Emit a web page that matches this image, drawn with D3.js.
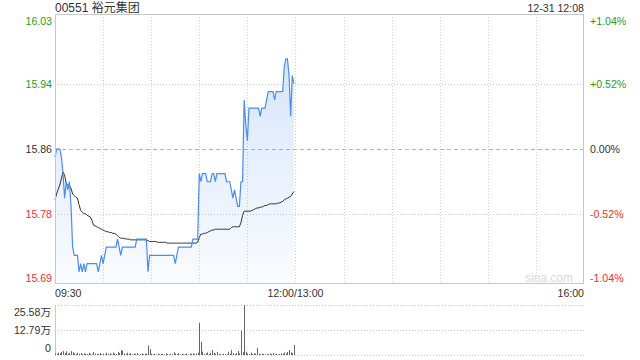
<!DOCTYPE html>
<html><head><meta charset="utf-8">
<script src="https://cdn.jsdelivr.net/npm/d3@7"></script>
<style>
html,body{margin:0;padding:0;background:#fff;}
svg{display:block;font-family:Arial,"Liberation Sans","Noto Sans CJK SC",sans-serif;}
</style></head>
<body><svg id="c" width="640" height="360"></svg>
<script>
// ---- data ----
const title = "00551 裕元集团";
const stamp = "12-31 12:08";
const prevClose = 15.86;
const priceTicks = [16.03, 15.94, 15.86, 15.78, 15.69];
const pctTicks = ["+1.04%", "+0.52%", "0.00%", "-0.52%", "-1.04%"];
const timeLabels = ["09:30", "12:00/13:00", "16:00"];
const timeLabelMinutes = [0, 150, 330];
const volTicks = [25.58, 12.79, 0];
const volTickLabels = ["25.58万", "12.79万", "0"];
// minute-by-minute last price, 09:30 onward
const price = [
 15.85,15.86,15.86,15.86,15.85,15.83,15.80,15.82,15.81,15.82, // 0-9
 15.79,15.74,15.73,15.73,15.73,15.71,15.72,15.71,15.72,15.71, // 10-19
 15.72,15.72,15.72,15.72,15.72,15.72,15.72,15.71,15.72,15.73, // 20-29
 15.72,15.73,15.74,15.74,15.74,15.74,15.74,15.74,15.74,15.75, // 30-39
 15.74,15.73,15.74,15.74,15.74,15.74,15.74,15.74,15.74,15.74, // 40-49
 15.74,15.75,15.75,15.75,15.75,15.75,15.75,15.75,15.71,15.73, // 50-59
 15.73,15.73,15.73,15.73,15.73,15.73,15.73,15.73,15.73,15.73, // 60-69
 15.73,15.73,15.73,15.73,15.73,15.72,15.73,15.74,15.74,15.74, // 70-79
 15.74,15.74,15.74,15.74,15.74,15.74,15.75,15.75,15.75,15.75, // 80-89
 15.83,15.82,15.83,15.83,15.83,15.82,15.82,15.82,15.83,15.83, // 90-99
 15.82,15.83,15.83,15.83,15.83,15.83,15.83,15.82,15.82,15.82, // 100-109
 15.81,15.80,15.81,15.80,15.79,15.79,15.82,15.82,15.92,15.89, // 110-119
 15.87,15.91,15.91,15.91,15.91,15.91,15.91,15.91,15.90,15.91, // 120-129
 15.91,15.91,15.92,15.93,15.93,15.93,15.93,15.92,15.93,15.93, // 130-139
 15.93,15.93,15.93,15.96,15.97,15.97,15.95,15.90,15.95,15.94  // 140-149
];
// minute-by-minute average price
const avgPrice = [
 15.798,15.805,15.811,15.816,15.824,15.832,15.828,15.818,15.816,15.815,
 15.812,15.805,15.803,15.801,15.800,15.792,15.785,15.783,15.781,15.781,
 15.779,15.778,15.777,15.773,15.767,15.766,15.765,15.764,15.763,15.762,
 15.761,15.760,15.759,15.759,15.758,15.758,15.757,15.757,15.756,15.754,
 15.752,15.751,15.751,15.751,15.750,15.750,15.750,15.749,15.749,15.749,
 15.749,15.749,15.749,15.749,15.749,15.749,15.749,15.749,15.748,15.747,
 15.747,15.747,15.747,15.747,15.746,15.746,15.746,15.746,15.746,15.746,
 15.745,15.745,15.745,15.745,15.745,15.745,15.745,15.745,15.745,15.745,
 15.745,15.745,15.745,15.745,15.745,15.745,15.745,15.745,15.745,15.746,
 15.752,15.756,15.756,15.757,15.757,15.758,15.759,15.760,15.761,15.761,
 15.762,15.762,15.762,15.762,15.762,15.762,15.762,15.762,15.762,15.762,
 15.764,15.765,15.765,15.765,15.765,15.765,15.770,15.779,15.784,15.784,
 15.784,15.784,15.784,15.785,15.786,15.787,15.788,15.788,15.789,15.789,
 15.790,15.791,15.791,15.792,15.793,15.793,15.793,15.793,15.793,15.794,
 15.794,15.795,15.796,15.798,15.799,15.800,15.801,15.802,15.805,15.808
];
// minute volume, in 万 shares
const volume = [
 0.8,0.6,1.2,1.0,1.6,2.0,0.9,1.8,0.7,1.1,
 2.0,1.4,0.8,0.5,1.2,0.6,1.0,0.4,0.9,0.7,
 0.5,1.1,0.6,0.3,1.5,0.8,0.4,0.6,1.0,0.5,
 0.7,0.3,1.2,0.6,0.9,0.4,1.3,0.7,0.5,1.6,
 1.0,2.6,2.2,0.8,0.5,1.2,0.6,0.9,0.4,0.7,
 0.6,0.9,0.3,0.5,0.8,0.4,0.6,0.7,4.8,3.0,
 0.6,0.4,0.5,0.3,0.7,0.4,0.5,0.6,0.3,0.8,
 0.5,0.3,0.6,0.4,1.4,0.7,0.5,0.9,0.3,0.6,
 0.4,0.5,0.8,0.3,0.6,0.7,0.9,0.5,0.8,1.2,
 16.5,6.8,1.7,0.6,0.8,1.3,0.5,1.1,2.6,1.2,
 0.7,1.6,0.5,0.4,0.3,0.6,0.5,0.4,1.7,0.6,
 2.6,0.9,0.5,1.0,2.0,0.8,12.4,1.5,25.58,1.7,
 0.8,0.6,1.2,0.5,0.9,0.7,3.7,0.6,0.4,0.5,
 0.6,0.3,0.5,0.4,0.8,0.5,1.1,0.4,0.6,0.3,
 0.5,0.9,0.7,1.3,0.8,1.6,2.6,1.4,0.9,5.1
];

// ---- layout ----
const L = 55, R = 584, T = 14, B = 284;
const VT = 305, VB = 355;
const totalMinutes = 330;
const green = "#1f9e1f", red = "#f23030", dark = "#333";
const fs = 10.6;

const svg = d3.select("#c");
const x = d3.scaleLinear().domain([0, totalMinutes]).range([L, R]);
const half = prevClose * 0.0104;
const y = d3.scaleLinear().domain([prevClose - half, prevClose + half]).range([B, T]);
const yv = d3.scaleLinear().domain([0, d3.max(volTicks)]).range([VB, VT]);

const defs = svg.append("defs");
const grad = defs.append("linearGradient").attr("id", "g").attr("x1", 0).attr("y1", 0).attr("x2", 0).attr("y2", 1);
grad.append("stop").attr("offset", "0%").attr("stop-color", "#4a8cf0").attr("stop-opacity", 0.22);
grad.append("stop").attr("offset", "100%").attr("stop-color", "#4a8cf0").attr("stop-opacity", 0.03);

// grid
const grid = svg.append("g");
d3.range(30, totalMinutes, 30).forEach(m => {
  grid.append("line").attr("x1", Math.round(x(m)) + 0.5).attr("x2", Math.round(x(m)) + 0.5)
    .attr("y1", T).attr("y2", B).attr("stroke", "#cfcfcf").attr("stroke-dasharray", "1,2");
});
priceTicks.forEach((p, i) => {
  if (i === 0 || i === priceTicks.length - 1) return;
  const yy = Math.round(y(i === 2 ? prevClose : p)) + 0.5;
  grid.append("line").attr("x1", L).attr("x2", R).attr("y1", yy).attr("y2", yy)
    .attr("stroke", i === 2 ? "#b5b5b5" : "#cfcfcf")
    .attr("stroke-dasharray", i === 2 ? "4,3" : "1,2");
});

// area + lines
const area = d3.area().x((d, i) => x(i)).y0(B).y1(d => y(d));
svg.append("path").datum(price).attr("d", area).attr("fill", "url(#g)");
const line = d3.line().x((d, i) => x(i)).y(d => y(d));
svg.append("path").datum(avgPrice).attr("d", line).attr("fill", "none").attr("stroke", "#333").attr("stroke-width", 1);
svg.append("path").datum(price).attr("d", line).attr("fill", "none").attr("stroke", "#4a8cf0").attr("stroke-width", 1.2);

// border
svg.append("rect").attr("x", L + 0.5).attr("y", T + 0.5).attr("width", R - L - 1).attr("height", B - T - 1)
  .attr("fill", "none").attr("stroke", "#c8c8c8");

// watermark
svg.append("text").attr("x", 573).attr("y", 282).attr("text-anchor", "end")
  .attr("font-size", 12).attr("fill", "#d8d8d8").text("sina.com");

// price labels (top & bottom labels sit inside the plot band)
const tickColor = i => i < 2 ? green : (i === 2 ? dark : red);
priceTicks.forEach((p, i) => {
  const yy = i === 2 ? y(prevClose) : y(p);
  const base = i === 0 ? T + 10.5 : (i === priceTicks.length - 1 ? B - 2 : yy + 4);
  svg.append("text").attr("x", 52).attr("y", base).attr("text-anchor", "end")
    .attr("font-size", fs).attr("fill", tickColor(i)).text(p.toFixed(2));
  svg.append("text").attr("x", 590).attr("y", base)
    .attr("font-size", fs).attr("fill", tickColor(i)).text(pctTicks[i]);
});

// title & stamp
svg.append("text").attr("x", 55).attr("y", 12).attr("font-size", 12).attr("fill", dark).text(title);
svg.append("text").attr("x", 584).attr("y", 12).attr("text-anchor", "end").attr("font-size", fs).attr("fill", dark).text(stamp);

// time labels
timeLabels.forEach((t, i) => {
  const anchor = i === 0 ? "start" : (i === timeLabels.length - 1 ? "end" : "middle");
  svg.append("text").attr("x", x(timeLabelMinutes[i])).attr("y", 297).attr("text-anchor", anchor)
    .attr("font-size", fs).attr("fill", dark).text(t);
});

// volume panel
volTicks.forEach((v, i) => {
  const yy = Math.round(yv(v)) + 0.5;
  svg.append("line").attr("x1", L).attr("x2", R).attr("y1", yy).attr("y2", yy)
    .attr("stroke", "#cfcfcf").attr("stroke-dasharray", "1,2");
  const dy = i === 0 ? 11 : (i === volTicks.length - 1 ? -3 : 4);
  svg.append("text").attr("x", 51).attr("y", yv(v) + dy).attr("text-anchor", "end")
    .attr("font-size", fs).attr("fill", dark).text(volTickLabels[i]);
});
svg.append("line").attr("x1", L + 0.5).attr("x2", L + 0.5).attr("y1", VT).attr("y2", VB).attr("stroke", "#c8c8c8");
svg.append("g").selectAll("rect").data(volume).join("rect")
  .attr("x", (d, i) => Math.round(x(i)))
  .attr("width", 1)
  .attr("y", d => yv(d))
  .attr("height", d => VB - yv(d))
  .attr("fill", "#666");
</script></body></html>
